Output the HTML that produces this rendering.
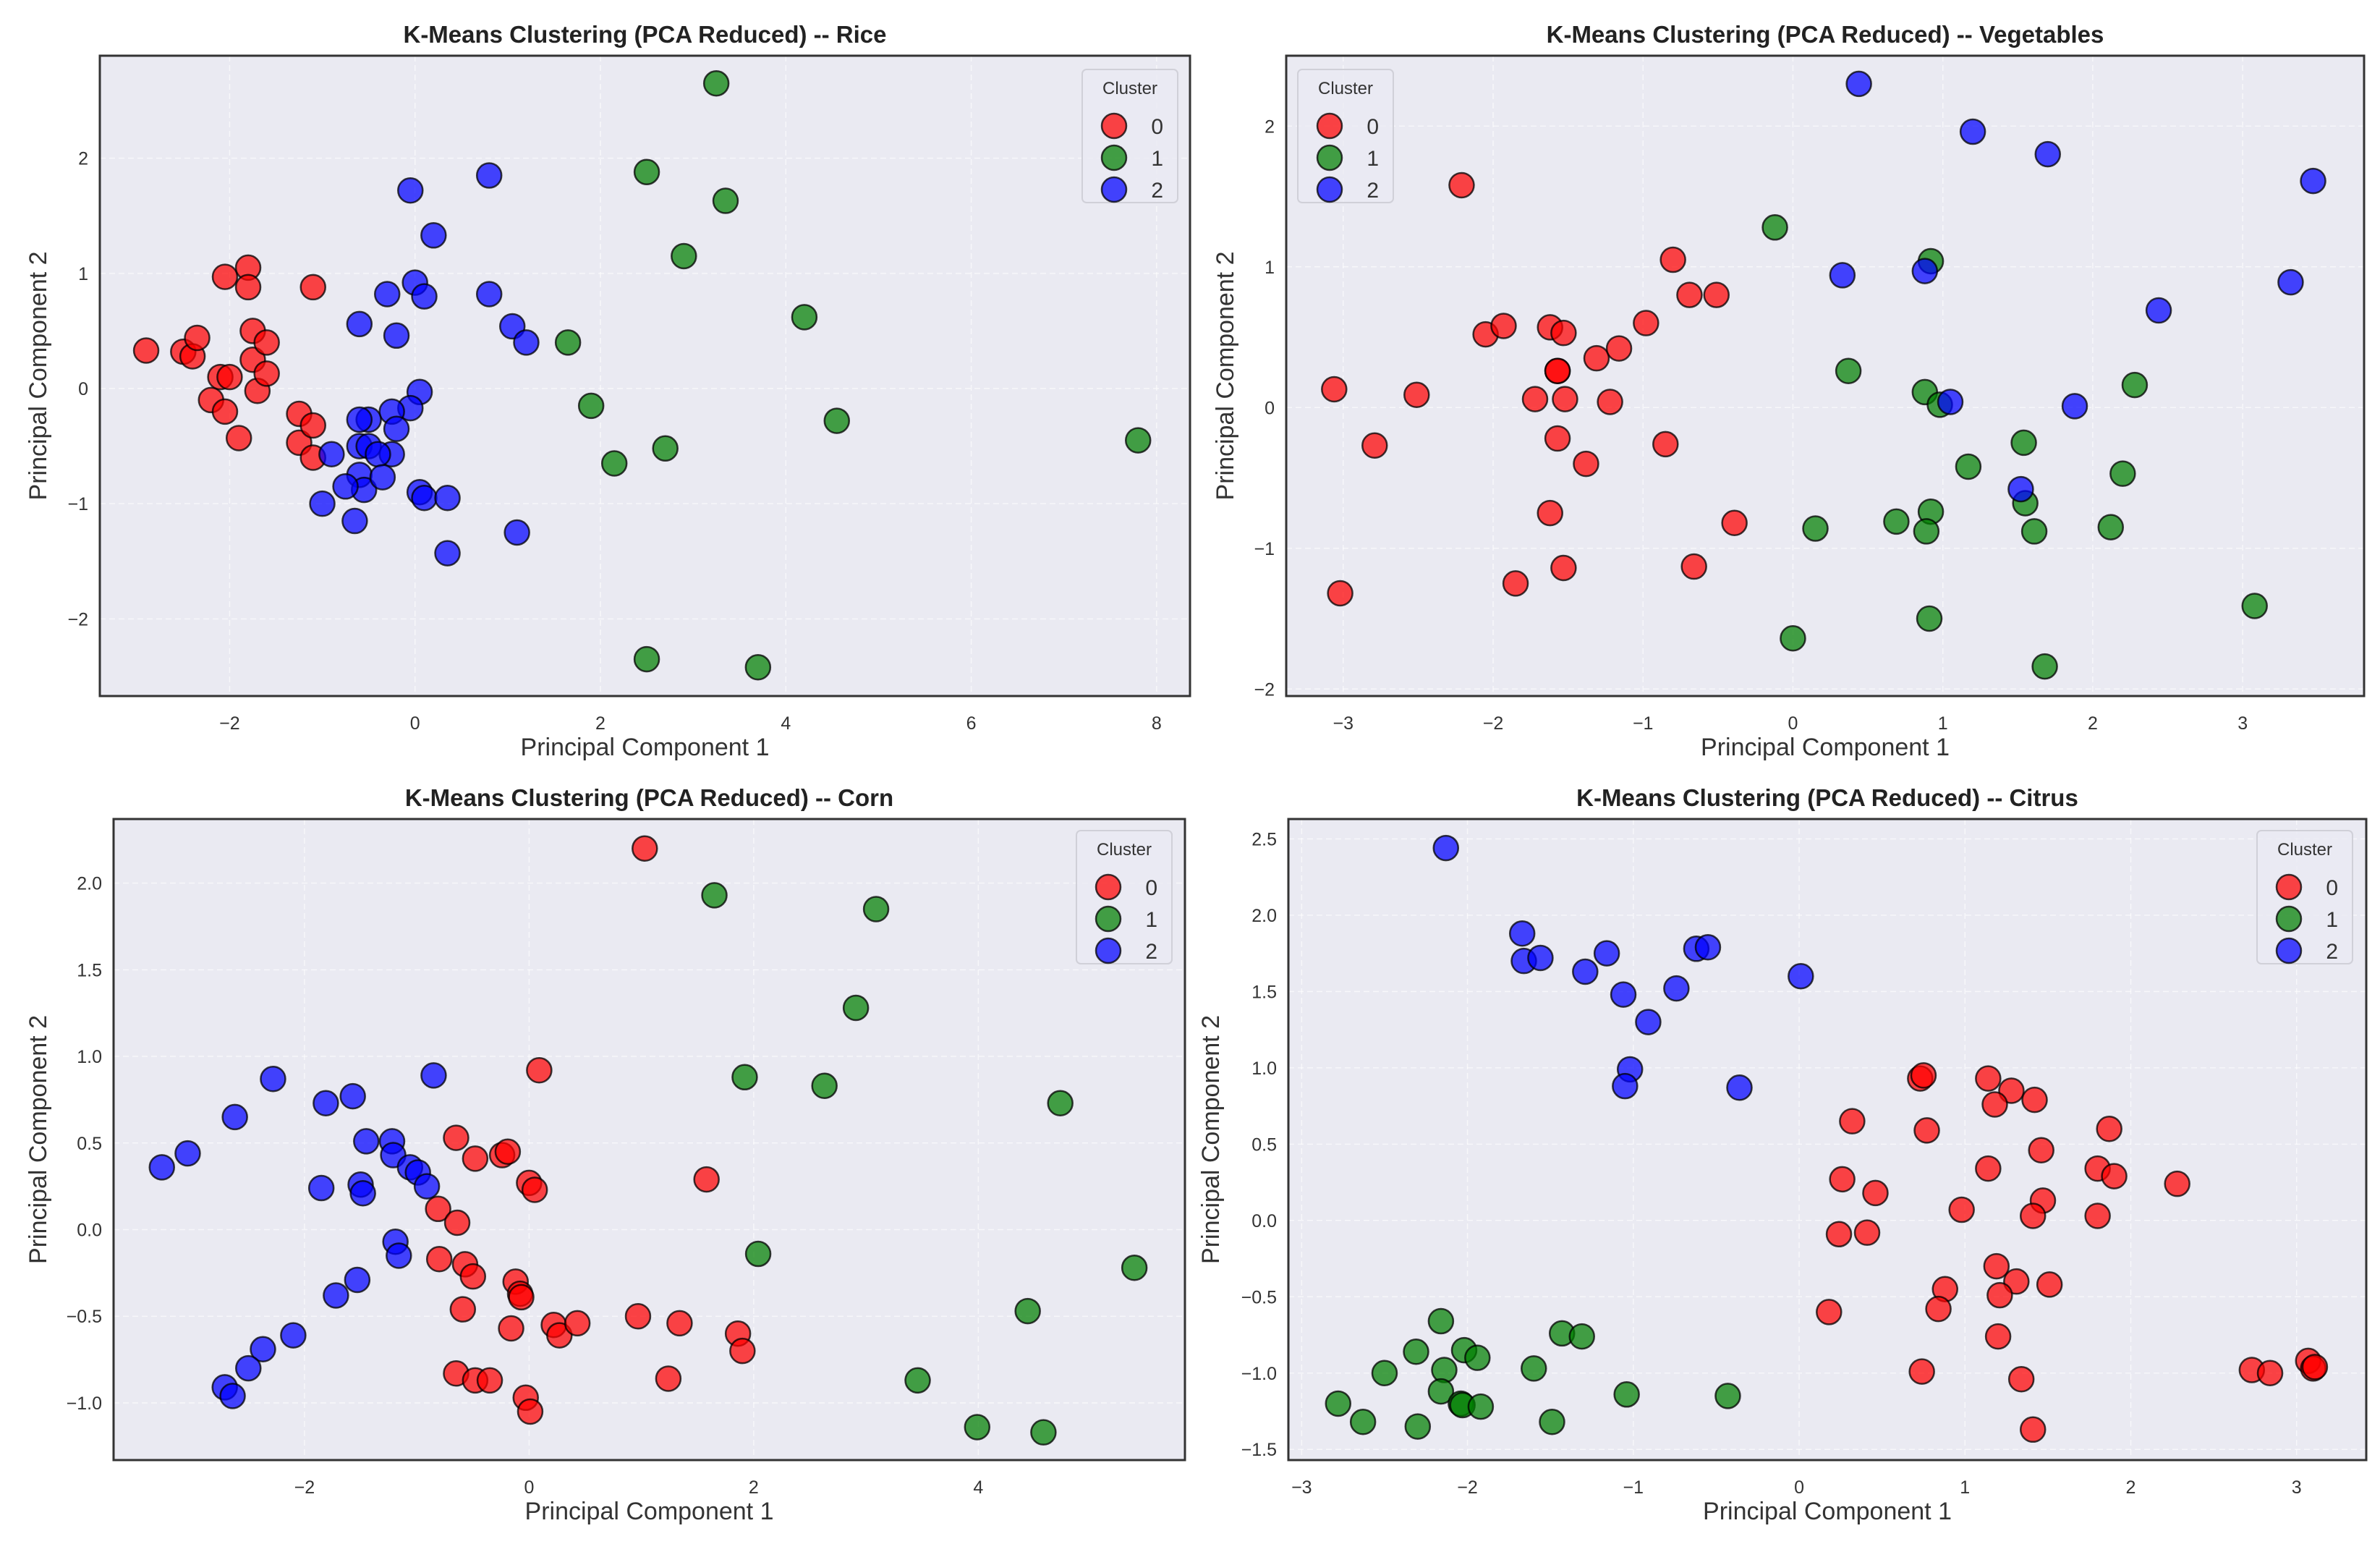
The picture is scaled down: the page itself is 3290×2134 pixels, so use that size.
<!DOCTYPE html>
<html><head><meta charset="utf-8"><style>
html,body{margin:0;padding:0;background:#fff;}
svg{display:block;font-family:"Liberation Sans",sans-serif;}
</style></head>
<body>
<svg id="fig" width="3290" height="2134" viewBox="0 0 3290 2134" xmlns="http://www.w3.org/2000/svg"></svg>
<script>
// ---- Data ----
const riceX0=[-2.9,-2.5,-2.4,-2.35,-2.2,-2.1,-2.05,-2.0,-2.05,-1.8,-1.8,-1.75,-1.75,-1.7,-1.9,-1.6,-1.6,-1.1,-1.25,-1.25,-1.1,-1.1];
const riceY0=[0.33,0.32,0.28,0.44,-0.1,0.1,-0.2,0.1,0.97,1.05,0.88,0.5,0.25,-0.02,-0.43,0.4,0.13,0.88,-0.22,-0.47,-0.32,-0.6];
const riceX1=[3.25,2.5,3.35,2.9,4.2,1.65,1.9,4.55,2.7,2.15,7.8,2.5,3.7];
const riceY1=[2.65,1.88,1.63,1.15,0.62,0.4,-0.15,-0.28,-0.52,-0.65,-0.45,-2.35,-2.42];
const riceX2=[-0.05,0.8,0.2,0,-0.3,0.1,0.8,-0.6,-0.2,1.05,1.2,0.05,-0.05,-0.25,-0.2,-0.5,-0.6,-0.6,-0.5,-0.25,-0.4,-0.9,-0.6,-0.55,-0.35,-0.75,-1.0,-0.65,0.05,0.1,0.35,0.35,1.1];
const riceY2=[1.72,1.85,1.33,0.92,0.82,0.8,0.82,0.56,0.46,0.54,0.4,-0.03,-0.17,-0.2,-0.35,-0.27,-0.27,-0.5,-0.5,-0.57,-0.57,-0.57,-0.75,-0.88,-0.77,-0.85,-1.0,-1.15,-0.9,-0.95,-0.95,-1.43,-1.25];

const vegX0=[-3.06,-2.79,-2.51,-2.21,-3.02,-2.05,-1.93,-1.62,-1.53,-1.57,-1.57,-1.72,-1.52,-1.31,-1.16,-1.22,-0.98,-0.8,-0.69,-0.51,-0.85,-1.57,-1.38,-1.62,-0.39,-0.66,-1.53,-1.85];
const vegY0=[0.13,-0.27,0.09,1.58,-1.32,0.52,0.58,0.57,0.53,0.26,0.26,0.06,0.06,0.35,0.42,0.04,0.6,1.05,0.8,0.8,-0.26,-0.22,-0.4,-0.75,-0.82,-1.13,-1.14,-1.25];
const vegX1=[-0.12,0.92,0.37,0.88,0.98,2.28,1.54,1.17,2.2,1.55,0.92,0.69,0.89,0.15,1.61,2.12,3.08,0.91,0,1.68];
const vegY1=[1.28,1.04,0.26,0.11,0.02,0.16,-0.25,-0.42,-0.47,-0.68,-0.74,-0.81,-0.88,-0.86,-0.88,-0.85,-1.41,-1.5,-1.64,-1.84];
const vegX2=[0.44,1.2,1.7,3.47,3.32,2.44,0.33,0.88,1.05,1.88,1.52];
const vegY2=[2.3,1.96,1.8,1.61,0.89,0.69,0.94,0.97,0.04,0.01,-0.58];

const cornX0=[1.03,0.09,-0.65,-0.48,-0.24,-0.19,0,0.05,1.58,-0.81,-0.64,-0.8,-0.57,-0.5,-0.12,-0.08,-0.07,-0.59,-0.16,0.22,0.27,0.43,0.97,1.34,1.86,1.9,-0.65,-0.48,-0.35,1.24,-0.03,0.01];
const cornY0=[2.2,0.92,0.53,0.41,0.43,0.45,0.27,0.23,0.29,0.12,0.04,-0.17,-0.2,-0.27,-0.3,-0.37,-0.39,-0.46,-0.57,-0.55,-0.61,-0.54,-0.5,-0.54,-0.6,-0.7,-0.83,-0.87,-0.87,-0.86,-0.97,-1.05];
const cornX1=[1.65,3.09,2.91,1.92,2.63,4.73,2.04,5.39,4.44,3.46,3.99,4.58];
const cornY1=[1.93,1.85,1.28,0.88,0.83,0.73,-0.14,-0.22,-0.47,-0.87,-1.14,-1.17];
const cornX2=[-2.28,-0.85,-1.57,-1.81,-2.62,-3.04,-3.27,-1.45,-1.22,-1.21,-1.06,-0.99,-0.91,-1.85,-1.5,-1.48,-1.19,-1.16,-1.53,-1.72,-2.1,-2.37,-2.5,-2.71,-2.64];
const cornY2=[0.87,0.89,0.77,0.73,0.65,0.44,0.36,0.51,0.51,0.43,0.36,0.33,0.25,0.24,0.26,0.21,-0.07,-0.15,-0.29,-0.38,-0.61,-0.69,-0.8,-0.91,-0.96];

const citX0=[0.73,0.75,1.14,1.28,1.18,1.42,0.32,0.77,1.87,1.46,1.14,1.8,1.9,2.28,0.26,0.46,0.98,1.47,1.41,1.8,0.24,0.41,1.19,1.31,1.51,0.88,1.21,0.84,0.18,1.2,0.74,1.34,2.73,2.84,3.07,3.1,3.11,1.41];
const citY0=[0.93,0.95,0.93,0.85,0.76,0.79,0.65,0.59,0.6,0.46,0.34,0.34,0.29,0.24,0.27,0.18,0.07,0.13,0.03,0.03,-0.09,-0.08,-0.3,-0.4,-0.42,-0.45,-0.49,-0.58,-0.6,-0.76,-0.99,-1.04,-0.98,-1.0,-0.92,-0.97,-0.96,-1.37];
const citX1=[-2.16,-2.31,-2.02,-1.94,-2.5,-2.14,-1.43,-1.31,-1.6,-2.16,-2.04,-2.03,-1.92,-2.78,-2.63,-2.3,-1.49,-1.04,-0.43];
const citY1=[-0.66,-0.86,-0.85,-0.9,-1.0,-0.98,-0.74,-0.76,-0.97,-1.12,-1.2,-1.21,-1.22,-1.2,-1.32,-1.35,-1.32,-1.14,-1.15];
const citX2=[-2.13,-1.67,-1.66,-1.56,-1.16,-1.29,-1.06,-0.74,-0.62,-0.55,0.01,-0.91,-1.02,-1.05,-0.36];
const citY2=[2.44,1.88,1.7,1.72,1.75,1.63,1.48,1.52,1.78,1.79,1.6,1.3,0.99,0.88,0.87];

const riceXTicks=[-2,0,2,4,6,8], riceYTicks=[-2,-1,0,1,2];
const vegXTicks=[-3,-2,-1,0,1,2,3], vegYTicks=[-2,-1,0,1,2];
const cornXTicks=[-2,0,2,4], cornYTicks=["-1.0","-0.5","0.0","0.5","1.0","1.5","2.0"];
const citXTicks=[-3,-2,-1,0,1,2,3], citYTicks=["-1.5","-1.0","-0.5","0.0","0.5","1.0","1.5","2.0","2.5"];

const panels=[
 {key:'rice',title:'K-Means Clustering (PCA Reduced) -- Rice',L:138,R:1645,T:77,B:962,xmin:-3.40,xmax:8.36,ymin:-2.67,ymax:2.89,xt:riceXTicks,yt:riceYTicks,legX:1496,legY:96,ylabX:55,
  series:[[riceX0,riceY0],[riceX1,riceY1],[riceX2,riceY2]]},
 {key:'vegetables',title:'K-Means Clustering (PCA Reduced) -- Vegetables',L:1778,R:3268,T:77,B:962,xmin:-3.38,xmax:3.81,ymin:-2.05,ymax:2.50,xt:vegXTicks,yt:vegYTicks,legX:1794,legY:96,ylabX:1696,
  series:[[vegX0,vegY0],[vegX1,vegY1],[vegX2,vegY2]]},
 {key:'corn',title:'K-Means Clustering (PCA Reduced) -- Corn',L:157,R:1638,T:1132,B:2018,xmin:-3.70,xmax:5.84,ymin:-1.33,ymax:2.37,xt:cornXTicks,yt:cornYTicks,legX:1488,legY:1148,ylabX:55,
  series:[[cornX0,cornY0],[cornX1,cornY1],[cornX2,cornY2]]},
 {key:'citrus',title:'K-Means Clustering (PCA Reduced) -- Citrus',L:1781,R:3271,T:1132,B:2018,xmin:-3.08,xmax:3.42,ymin:-1.57,ymax:2.63,xt:citXTicks,yt:citYTicks,legX:3120,legY:1148,ylabX:1676,
  series:[[citX0,citY0],[citX1,citY1],[citX2,citY2]]}
];
const fills=['rgba(255,0,0,0.72)','rgba(0,128,0,0.72)','rgba(0,0,255,0.72)'];
const clusterNames=['0','1','2'];
const NS='http://www.w3.org/2000/svg';
const svg=document.getElementById('fig');
function mk(tag,attrs,parent){const e=document.createElementNS(NS,tag);for(const k in attrs)e.setAttribute(k,attrs[k]);(parent||svg).appendChild(e);return e;}

panels.forEach(p=>{
  const g=mk('g',{});
  
  
  const sx=v=>p.L+(v-p.xmin)/(p.xmax-p.xmin)*(p.R-p.L);
  const sy=v=>p.B-(v-p.ymin)/(p.ymax-p.ymin)*(p.B-p.T);
  const bg=mk('rect',{x:p.L,y:p.T,width:p.R-p.L,height:p.B-p.T,fill:'#eaeaf2'},g);
  
  
  p.xt.forEach(t=>{
    const x=sx(+t);
    const gl=mk('line',{x1:x,x2:x,y1:p.T,y2:p.B,stroke:'#fff','stroke-opacity':0.6,'stroke-width':1.5,'stroke-dasharray':'8 5'},g);
    
    
    const tl=mk('text',{x:x,y:p.B+46,'font-size':25,fill:'#333','text-anchor':'middle'},g);
    tl.textContent=String(t).replace('-','\u2212');
    
    
  });
  p.yt.forEach(t=>{
    const y=sy(+t);
    const gl=mk('line',{x1:p.L,x2:p.R,y1:y,y2:y,stroke:'#fff','stroke-opacity':0.6,'stroke-width':1.5,'stroke-dasharray':'8 5'},g);
    
    
    const tl=mk('text',{x:p.L-16,y:y+9,'font-size':25,fill:'#333','text-anchor':'end'},g);
    tl.textContent=String(t).replace('-','\u2212');
    
    
  });
  p.series.forEach((s,ci)=>{
    s[0].forEach((xv,i)=>{
      const c=mk('circle',{cx:sx(xv),cy:sy(s[1][i]),r:17,fill:fills[ci],stroke:'rgba(0,0,0,0.75)','stroke-width':2.5},g);
      
      
    });
  });
  const fr=mk('rect',{x:p.L,y:p.T,width:p.R-p.L,height:p.B-p.T,fill:'none',stroke:'#333','stroke-width':3},g);
  
  
  const ti=mk('text',{x:(p.L+p.R)/2,y:p.T-18,'font-size':33,'font-weight':'bold',fill:'#222','text-anchor':'middle'},g);
  ti.textContent=p.title;
  
  
  const xl=mk('text',{x:(p.L+p.R)/2,y:p.B+82,'font-size':34,fill:'#333','text-anchor':'middle'},g);
  xl.textContent='Principal Component 1';
  
  
  const yc=(p.T+p.B)/2;
  const yl=mk('text',{x:p.ylabX,y:yc,'font-size':34,fill:'#333','text-anchor':'middle',transform:'rotate(-90 '+p.ylabX+' '+yc+')','dominant-baseline':'middle'},g);
  yl.textContent='Principal Component 2';
  
  
  const lg=mk('g',{},g);
  
  
  mk('rect',{x:p.legX,y:p.legY,width:132,height:184,rx:6,fill:'rgba(234,234,242,0.8)',stroke:'#d0d0d8','stroke-width':2},lg);
  const lt=mk('text',{x:p.legX+66,y:p.legY+34,'font-size':24,fill:'#333','text-anchor':'middle'},lg);
  lt.textContent='Cluster';
  
  
  clusterNames.forEach((nm,ci)=>{
    const ey=p.legY+78+ci*44;
    const le=mk('g',{},lg);
    
    
    mk('circle',{cx:p.legX+44,cy:ey,r:17,fill:fills[ci],stroke:'rgba(0,0,0,0.75)','stroke-width':2.5},le);
    const tx=mk('text',{x:p.legX+112,y:ey+11,'font-size':30,fill:'#333','text-anchor':'end'},le);
    tx.textContent=nm;
  });
});
</script>
</body></html>
